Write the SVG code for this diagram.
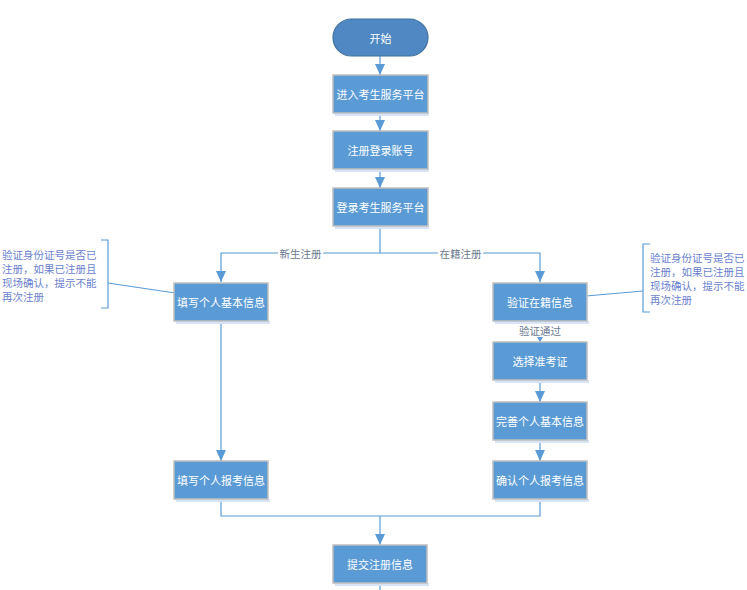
<svg xmlns="http://www.w3.org/2000/svg" width="747" height="590" viewBox="0 0 747 590">
<defs>
<marker id="arr" markerWidth="12" markerHeight="10" refX="11" refY="5" orient="auto" markerUnits="userSpaceOnUse">
<path d="M0,0 L11,5 L0,10 Z" fill="#5b9bd5"/>
</marker>
<marker id="arrs" markerWidth="6" markerHeight="6" refX="5" refY="3" orient="auto" markerUnits="userSpaceOnUse">
<path d="M0,0 L5,3 L0,6 Z" fill="#5b9bd5"/>
</marker>
<style>
.box{fill:#5b9bd5;stroke:#bfbfbf;stroke-width:1.5}
.sh{fill:#d6e4f5}
.bt{font-family:"Noto Sans CJK SC","Liberation Sans",sans-serif;font-size:11px;fill:#ffffff;text-anchor:middle;dominant-baseline:central}
.ln{fill:none;stroke:#5b9bd5;stroke-width:1.2}
.lb{font-family:"Noto Sans CJK SC","Liberation Sans",sans-serif;font-size:10.5px;fill:#6b7a90;text-anchor:middle;dominant-baseline:central}
.an{font-family:"Noto Sans CJK SC","Liberation Sans",sans-serif;font-size:10.5px;fill:#6a7fcf}
</style>
</defs>
<rect width="747" height="590" fill="#ffffff"/>
<g id="connectors">
<line class="ln" x1="380" y1="56" x2="380" y2="75" marker-end="url(#arr)"/>
<line class="ln" x1="380" y1="113" x2="380" y2="131" marker-end="url(#arr)"/>
<line class="ln" x1="380" y1="169" x2="380" y2="188" marker-end="url(#arr)"/>
<polyline class="ln" points="380,226 380,253 221,253 221,282" marker-end="url(#arr)"/>
<polyline class="ln" points="380,253 540,253 540,282" marker-end="url(#arr)"/>
<rect x="278" y="246" width="45" height="14" fill="#ffffff"/>
<text class="lb" x="300.5" y="253">新生注册</text>
<rect x="438" y="246" width="45" height="14" fill="#ffffff"/>
<text class="lb" x="460.5" y="253">在籍注册</text>
<line class="ln" x1="540" y1="321" x2="540" y2="342" marker-end="url(#arrs)"/>
<rect x="517" y="323" width="46" height="14" fill="#ffffff"/>
<text class="lb" x="540" y="330">验证通过</text>
<line class="ln" x1="540" y1="380" x2="540" y2="402" marker-end="url(#arr)"/>
<line class="ln" x1="540" y1="440" x2="540" y2="461" marker-end="url(#arr)"/>
<line class="ln" x1="221" y1="321" x2="221" y2="461" marker-end="url(#arr)"/>
<polyline class="ln" points="221,499 221,516 540,516 540,499"/>
<line class="ln" x1="380" y1="516" x2="380" y2="545" marker-end="url(#arr)"/>
<line class="ln" x1="380" y1="583" x2="380" y2="590"/>
<line class="ln" x1="108" y1="283" x2="175" y2="293"/>
<line class="ln" x1="586" y1="296" x2="643" y2="291"/>
</g>
<g id="start">
<rect x="333" y="19" width="95" height="37" rx="18.5" ry="18.5" fill="#4f88c2" stroke="#41719c" stroke-width="1.2"/>
<text class="bt" x="380.5" y="37.5">开始</text>
</g>
<g id="n1">
<rect class="sh" x="335" y="113" width="94" height="3"/>
<rect class="box" x="333" y="75" width="95" height="38"/>
<text class="bt" x="380.5" y="94">进入考生服务平台</text>
</g>
<g id="n2">
<rect class="sh" x="335" y="169" width="94" height="3"/>
<rect class="box" x="333" y="131" width="95" height="38"/>
<text class="bt" x="380.5" y="150">注册登录账号</text>
</g>
<g id="n3">
<rect class="sh" x="335" y="226" width="94" height="3"/>
<rect class="box" x="333" y="188" width="95" height="38"/>
<text class="bt" x="380.5" y="207">登录考生服务平台</text>
</g>
<g id="n4">
<rect class="sh" x="176" y="321" width="94" height="3"/>
<rect class="box" x="174" y="283" width="94" height="38"/>
<text class="bt" x="221" y="302">填写个人基本信息</text>
</g>
<g id="n5">
<rect class="sh" x="495" y="321" width="94" height="3"/>
<rect class="box" x="493" y="283" width="94" height="38"/>
<text class="bt" x="540" y="302">验证在籍信息</text>
</g>
<g id="n6">
<rect class="sh" x="495" y="380" width="94" height="3"/>
<rect class="box" x="493" y="342" width="94" height="38"/>
<text class="bt" x="540" y="361">选择准考证</text>
</g>
<g id="n7">
<rect class="sh" x="495" y="440" width="94" height="3"/>
<rect class="box" x="493" y="402" width="94" height="38"/>
<text class="bt" x="540" y="421">完善个人基本信息</text>
</g>
<g id="n8">
<rect class="sh" x="495" y="499" width="94" height="3"/>
<rect class="box" x="493" y="461" width="94" height="38"/>
<text class="bt" x="540" y="480">确认个人报考信息</text>
</g>
<g id="n9">
<rect class="sh" x="176" y="499" width="94" height="3"/>
<rect class="box" x="174" y="461" width="94" height="38"/>
<text class="bt" x="221" y="480">填写个人报考信息</text>
</g>
<g id="n10">
<rect class="sh" x="335" y="583" width="94" height="3"/>
<rect class="box" x="333" y="545" width="94" height="38"/>
<text class="bt" x="380" y="564">提交注册信息</text>
</g>
<g id="note-left">
<polyline class="ln" points="101,240 108,240 108,308 101,308"/>
<text class="an" x="2" y="259">验证身份证号是否已</text>
<text class="an" x="2" y="273">注册，如果已注册且</text>
<text class="an" x="2" y="287">现场确认，提示不能</text>
<text class="an" x="2" y="301">再次注册</text>
</g>
<g id="note-right">
<polyline class="ln" points="650,244 643,244 643,312 650,312"/>
<text class="an" x="650" y="262">验证身份证号是否已</text>
<text class="an" x="650" y="276">注册，如果已注册且</text>
<text class="an" x="650" y="290">现场确认，提示不能</text>
<text class="an" x="650" y="304">再次注册</text>
</g>
</svg>
